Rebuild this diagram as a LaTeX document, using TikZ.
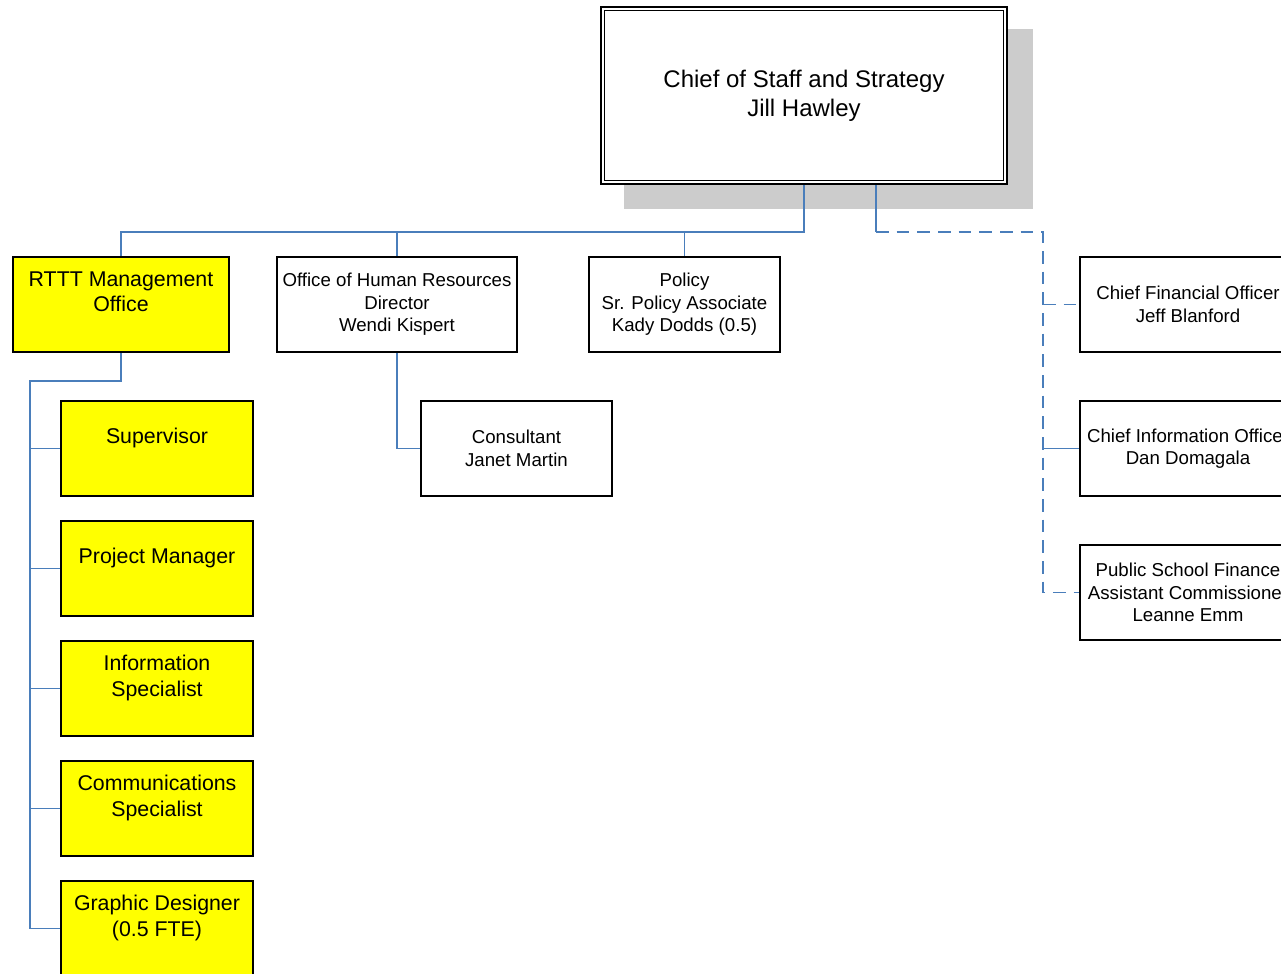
\documentclass[tikz,border=0pt]{standalone}
\usepackage{fontspec}
\setmainfont{Liberation Sans}
\usetikzlibrary{backgrounds}
\definecolor{linkblue}{HTML}{4A7EBB}
\definecolor{shadowgray}{HTML}{CCCCCC}
\definecolor{boxyellow}{HTML}{FFFF00}
\begin{document}
\begin{tikzpicture}[x=0.75pt,y=-0.75pt,
  every node/.style={inner sep=0pt, outer sep=0pt, align=center},
  box/.style={draw=black, line width=1.1pt, fill=white, anchor=north west,
    minimum height=71.25pt, font=\fontsize{14}{16.9}\selectfont},
  ybox/.style={box, fill=boxyellow, minimum width=144pt, text depth=19.5pt,
    font=\fontsize{16}{19.2}\selectfont},
  chiefbox/.style={draw=black, double=white, double distance=1.7pt, line width=1.2pt,
    fill=white, minimum width=301.9pt, minimum height=130.1pt,
    font=\fontsize{18}{21.75}\selectfont},
  conn/.style={draw=linkblue, line width=1.1pt},
  dconn/.style={conn, dash pattern=on 9.5pt off 6pt}
]
\useasboundingbox (0,0) rectangle (1281,974);

% top position
\node[chiefbox] (chief) at (804,95.5) {Chief of Staff and Strategy\\Jill Hawley};

% direct reports
\node[ybox, minimum width=162pt] (rttt) at (13,257) {RTTT Management\\Office};
\node[box, minimum width=180pt] (hr) at (277,257) {Office of Human Resources\\Director\\Wendi Kispert};
\node[box, minimum width=143.25pt] (pol) at (589,257) {Policy\\Sr. Policy Associate\\Kady Dodds (0.5)};
\node[box, minimum width=143.25pt] (cons) at (421,401) {Consultant\\Janet Martin};

% RTTT staff
\node[ybox] (sup) at (61,401) {Supervisor};
\node[ybox] (pm) at (61,521) {Project Manager};
\node[ybox] (info) at (61,641) {Information\\Specialist};
\node[ybox] (comm) at (61,761) {Communications\\Specialist};
\node[ybox] (gd) at (61,881) {Graphic Designer\\(0.5 FTE)};

% dotted-line reports
\node[box, minimum width=162pt] (cfo) at (1080,257) {Chief Financial Officer\\Jeff Blanford};
\node[box, minimum width=162pt] (cio) at (1080,401) {Chief Information Officer\\Dan Domagala};
\node[box, minimum width=162pt] (psf) at (1080,545) {Public School Finance\\Assistant Commissioner\\Leanne Emm};

\coordinate (bus) at (0,232);
\coordinate (dtop) at (876,232);
\coordinate (dx) at (1043,232);
\coordinate (rbus) at (30,381);

\begin{pgfonlayer}{background}
  \fill[shadowgray] (624,29) rectangle (1033,209);
  % solid reporting lines
  \draw[conn] (chief.south) -- (chief.south |- bus) -| (rttt.north);
  \draw[conn] (bus -| hr.north) -- (hr.north);
  \draw[conn] (bus -| pol.north) -- (pol.north);
  \draw[conn] (hr.south) |- (cons.west);
  \draw[conn] (rttt.south) |- (rbus) -- (rbus |- gd.west) -- (gd.west);
  \draw[conn] (rbus |- sup.west) -- (sup.west);
  \draw[conn] (rbus |- pm.west) -- (pm.west);
  \draw[conn] (rbus |- info.west) -- (info.west);
  \draw[conn] (rbus |- comm.west) -- (comm.west);
  % dotted-line reporting
  \draw[conn] (chief.south -| dtop) -- (dtop);
  \draw[dconn] (dtop) -- (dx) |- (psf.west);
  \draw[dconn] (dx |- cfo.west) -- (cfo.west);
  \draw[conn] (dx |- cio.west) -- (cio.west);
\end{pgfonlayer}
\end{tikzpicture}
\end{document}
